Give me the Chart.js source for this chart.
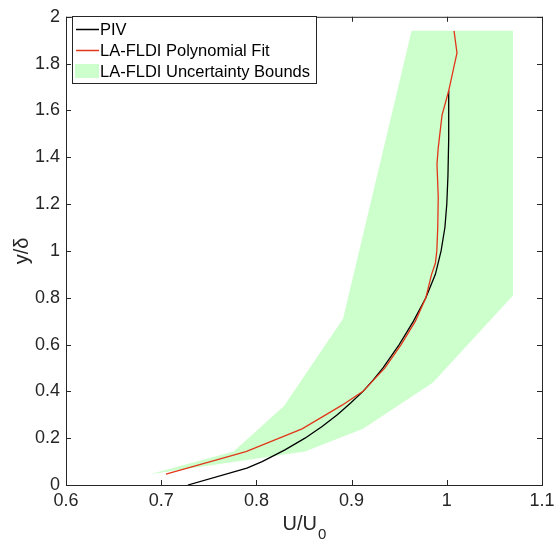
<!DOCTYPE html>
<html lang="en">
<head>
<meta charset="UTF-8">
<title>Perfil de velocidade</title>
<script src="https://cdn.jsdelivr.net/npm/chart.js"></script>
<style>
  body { margin: 0; background: #fff; }
  canvas { display: block; }
</style>
</head>
<body>
<canvas id="perfil" width="560" height="550"></canvas>
<script>
// PIV profile
const pivU = [0.728, 0.790, 0.806, 0.830, 0.851, 0.869, 0.885, 0.899, 0.912, 0.923, 0.933, 0.950, 0.965, 0.978, 0.988, 0.994, 0.998, 1.000, 1.0012, 1.002, 1.002];
const pivY = [0.000, 0.072, 0.100, 0.150, 0.200, 0.250, 0.300, 0.350, 0.400, 0.450, 0.500, 0.600, 0.700, 0.800, 0.900, 1.000, 1.100, 1.200, 1.320, 1.480, 1.684];

// LA-FLDI polynomial fit
const fitU = [0.705, 0.789, 0.848, 0.890, 0.912, 0.935, 0.952, 0.967, 0.978, 0.984, 0.988, 0.9895, 0.9905, 0.991, 0.9897, 0.991, 0.995, 1.002, 1.0077, 1.0107, 1.0076];
const fitY = [0.046, 0.143, 0.240, 0.341, 0.400, 0.500, 0.600, 0.700, 0.800, 0.900, 0.947, 1.000, 1.100, 1.230, 1.370, 1.440, 1.580, 1.684, 1.790, 1.846, 1.940];

// uncertainty band: left edge bottom -> top, then right edge top -> bottom
const bandLeftU = [0.688, 0.776, 0.829, 0.891, 0.963];
const bandLeftY = [0.046, 0.143, 0.337, 0.710, 1.940];
const bandRightU = [1.0695, 1.0695, 0.9855, 0.912, 0.851, 0.688];
const bandRightY = [1.940, 0.810, 0.438, 0.240, 0.143, 0.046];

const xTicks = [0.6, 0.7, 0.8, 0.9, 1, 1.1];
const yTicks = [0, 0.2, 0.4, 0.6, 0.8, 1, 1.2, 1.4, 1.6, 1.8, 2];

const FONTE = '"Liberation Sans", Arial, Helvetica, sans-serif';
const EIXO = '#262626';

const pares = (xs, ys) => xs.map((v, i) => ({ x: v, y: ys[i] }));

// frame with inward ticks, axis titles and legend box
const moldura = {
  id: 'moldura',
  afterDraw(chart) {
    const { ctx, chartArea: a, scales: { x, y } } = chart;
    const tl = 5;
    ctx.save();
    ctx.strokeStyle = EIXO;
    ctx.lineWidth = 1;
    ctx.strokeRect(a.left + 0.5, a.top + 0.5, a.right - a.left, a.bottom - a.top);
    ctx.beginPath();
    x.ticks.forEach(t => {
      const px = Math.round(x.getPixelForValue(t.value)) + 0.5;
      ctx.moveTo(px, a.bottom); ctx.lineTo(px, a.bottom - tl);
      ctx.moveTo(px, a.top); ctx.lineTo(px, a.top + tl);
    });
    y.ticks.forEach(t => {
      const py = Math.round(y.getPixelForValue(t.value)) + 0.5;
      ctx.moveTo(a.left, py); ctx.lineTo(a.left + tl, py);
      ctx.moveTo(a.right, py); ctx.lineTo(a.right - tl, py);
    });
    ctx.stroke();

    // x title U/U0
    ctx.fillStyle = EIXO;
    ctx.textBaseline = 'alphabetic';
    const base = 'U/U', sub = '0';
    ctx.font = '20px ' + FONTE;
    const wb = ctx.measureText(base).width;
    ctx.font = '15px ' + FONTE;
    const ws = ctx.measureText(sub).width;
    const cx = (a.left + a.right) / 2;
    const x0 = cx - (wb + ws) / 2;
    ctx.font = '20px ' + FONTE;
    ctx.textAlign = 'left';
    ctx.fillText(base, x0, 530);
    ctx.font = '15px ' + FONTE;
    ctx.fillText(sub, x0 + wb + 1, 539);

    // y title
    ctx.save();
    ctx.translate(28, (a.top + a.bottom) / 2);
    ctx.rotate(-Math.PI / 2);
    ctx.font = '20px ' + FONTE;
    ctx.textAlign = 'center';
    ctx.fillText('y/\u03B4', 0, 0);
    ctx.restore();

    // legend
    const lx = 72, ly = 16, lw = 244, lh = 67;
    ctx.fillStyle = '#fff';
    ctx.fillRect(lx, ly, lw, lh);
    ctx.strokeStyle = EIXO;
    ctx.strokeRect(lx + 0.5, ly + 0.5, lw, lh);
    ctx.font = '16.5px ' + FONTE;
    ctx.textAlign = 'left';
    ctx.textBaseline = 'middle';
    chart.data.datasets.forEach((ds, i) => {
      const ry = 29 + i * 21;
      if (ds.fill) {
        ctx.fillStyle = ds.backgroundColor;
        ctx.fillRect(75, ry - 7, 24, 14);
      } else {
        ctx.strokeStyle = ds.borderColor;
        ctx.lineWidth = 1.5;
        ctx.beginPath();
        ctx.moveTo(76, ry + 0.5); ctx.lineTo(99, ry + 0.5);
        ctx.stroke();
      }
      ctx.fillStyle = '#000';
      ctx.fillText(ds.label, 100, ry + 1);
    });
    ctx.restore();
  }
};

const fmt = v => String(+v.toFixed(2));

new Chart(document.getElementById('perfil'), {
  type: 'scatter',
  data: {
    datasets: [
      {
        label: 'PIV',
        data: pares(pivU, pivY),
        showLine: true,
        borderColor: '#000000',
        borderWidth: 1.3,
        pointRadius: 0,
        fill: false,
        order: 2
      },
      {
        label: 'LA-FLDI Polynomial Fit',
        data: pares(fitU, fitY),
        showLine: true,
        borderColor: '#e2361a',
        borderWidth: 1.3,
        pointRadius: 0,
        fill: false,
        order: 1
      },
      {
        label: 'LA-FLDI Uncertainty Bounds',
        data: pares(bandLeftU.concat(bandRightU), bandLeftY.concat(bandRightY)),
        showLine: true,
        borderWidth: 0,
        borderColor: 'rgba(0,0,0,0)',
        backgroundColor: '#ccffcc',
        pointRadius: 0,
        fill: 'shape',
        order: 3
      }
    ]
  },
  options: {
    responsive: false,
    animation: false,
    layout: { padding: { top: 10, right: 18, left: 0, bottom: 0 } },
    plugins: {
      legend: { display: false },
      tooltip: { enabled: false }
    },
    scales: {
      x: {
        type: 'linear',
        min: 0.6,
        max: 1.1,
        afterBuildTicks: s => { s.ticks = xTicks.map(v => ({ value: v })); },
        afterFit: s => { s.height = 65; },
        grid: { display: false, drawTicks: false },
        border: { display: false },
        ticks: {
          callback: fmt,
          color: EIXO,
          padding: 5,
          maxRotation: 0,
          font: { family: FONTE, size: 18 }
        }
      },
      y: {
        type: 'linear',
        min: 0,
        max: 2,
        afterBuildTicks: s => { s.ticks = yTicks.map(v => ({ value: v })); },
        afterFit: s => { s.width = 66; },
        grid: { display: false, drawTicks: false },
        border: { display: false },
        ticks: {
          callback: fmt,
          color: EIXO,
          padding: 6,
          font: { family: FONTE, size: 18 }
        }
      }
    }
  },
  plugins: [moldura]
});
</script>
</body>
</html>
